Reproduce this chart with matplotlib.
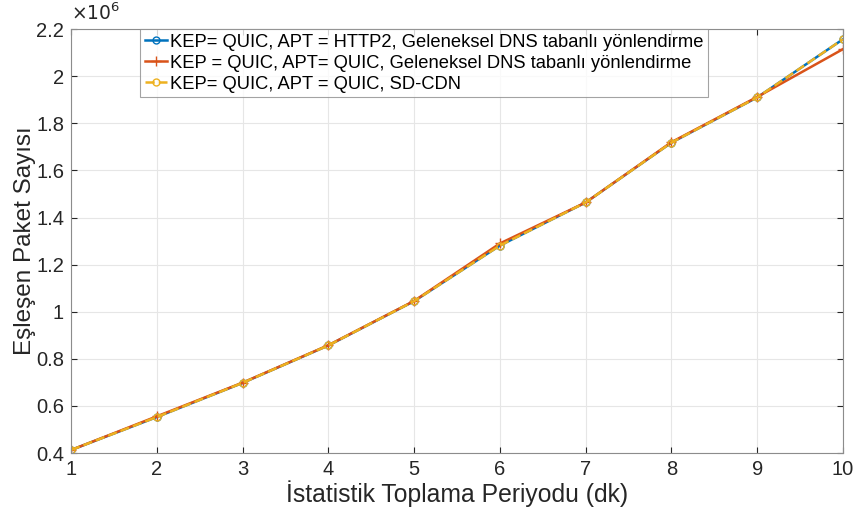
import matplotlib

matplotlib.use("Agg")
import matplotlib.pyplot as plt
from matplotlib.ticker import FuncFormatter

plt.rcParams["font.family"] = ["Liberation Sans", "DejaVu Sans"]

period = [1, 2, 3, 4, 5, 6, 7, 8, 9, 10]
http2_dns = [0.413e6, 0.553e6, 0.698e6, 0.857e6, 1.045e6, 1.281e6, 1.464e6, 1.718e6, 1.910e6, 2.157e6]
quic_dns = [0.413e6, 0.556e6, 0.699e6, 0.858e6, 1.046e6, 1.290e6, 1.464e6, 1.720e6, 1.912e6, 2.115e6]
quic_sdcdn = [0.413e6, 0.553e6, 0.698e6, 0.857e6, 1.045e6, 1.281e6, 1.464e6, 1.718e6, 1.910e6, 2.157e6]

labels = [
    "KEP= QUIC, APT = HTTP2, Geleneksel DNS tabanlı yönlendirme",
    "KEP = QUIC, APT= QUIC, Geleneksel DNS tabanlı yönlendirme",
    "KEP= QUIC, APT = QUIC, SD-CDN",
]

fig = plt.figure(figsize=(8.6, 5.19), dpi=100)
ax = fig.add_axes([0.0826, 0.127, 0.8977, 0.817])

ax.plot(period, http2_dns, "-o", color="#0072BD", lw=1.8, ms=5, mfc="none", label=labels[0])
ax.plot(period, quic_dns, "-+", color="#D95319", lw=1.8, ms=7, label=labels[1])
ax.plot(period, quic_sdcdn, "--o", color="#EDB120", lw=1.8, ms=5, mfc="none", label=labels[2])

ax.set_xlim(1, 10)
ax.set_ylim(0.4e6, 2.2e6)
ax.set_xticks(period)
ax.set_yticks([0.4e6 + 0.2e6 * i for i in range(10)])
ax.yaxis.set_major_formatter(FuncFormatter(lambda v, p: f"{v / 1e6:g}"))
ax.text(0.0, 1.012, r"$\times10^{6}$", transform=ax.transAxes, fontsize=13.5, color="#262626",
        va="bottom", ha="left")

ax.grid(True, color="#e6e6e6", lw=0.8)
ax.tick_params(direction="in", top=True, right=True, labelsize=14.5, colors="#262626",
               length=4, pad=5)
for s in ax.spines.values():
    s.set_color("#8c8c8c")

ax.set_xlabel("İstatistik Toplama Periyodu (dk)", fontsize=17.8, color="#262626", labelpad=1)
ax.set_ylabel("Eşleşen Paket Sayısı", fontsize=17.5, color="#262626", labelpad=0)

leg = ax.legend(loc="upper left", bbox_to_anchor=(0.0895, 1.0), fontsize=13.2, frameon=True,
                fancybox=False, edgecolor="#8c8c8c", handlelength=1.2, handletextpad=0.2,
                borderpad=0.25, labelspacing=0.22, borderaxespad=0)
leg.get_frame().set_linewidth(0.8)

fig.savefig("out.png", dpi=100)
